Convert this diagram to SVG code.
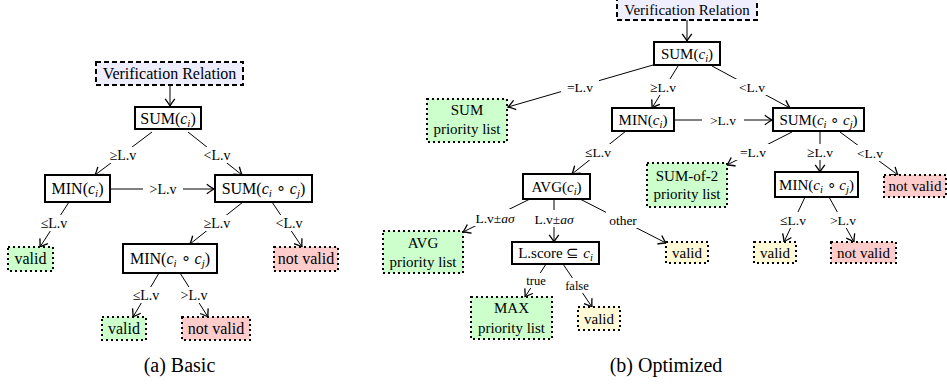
<svg xmlns="http://www.w3.org/2000/svg" width="947" height="385" viewBox="0 0 947 385">
<defs>
<marker id="ah" markerWidth="12" markerHeight="12" viewBox="-7 -5 9 10" refX="0" refY="0" orient="auto" markerUnits="userSpaceOnUse">
<path d="M-6,-4 Q-1.8,-0.9 0,0 Q-1.8,0.9 -6,4" fill="none" stroke="#000" stroke-width="1.1"/>
</marker>
<style>
.ed{stroke:#000;stroke-width:1;fill:none}
.ar{marker-end:url(#ah)}
.n{fill:#fff;stroke:#000;stroke-width:2}
.vr{fill:#eeeeff;stroke:#000;stroke-width:2;stroke-dasharray:5 3}
.lf{stroke:#000;stroke-width:2;stroke-dasharray:2 3}
.g{fill:#ccffcc}.r{fill:#ffcccc}.y{fill:#fff9d6}
text{font-family:"Liberation Serif","Times New Roman",serif;fill:#000;text-anchor:middle}
.ta{font-size:16px}.tb{font-size:15px}
.la{font-size:14px}.lb{font-size:13.5px}.lt{font-size:12.5px}
.cap{font-size:20px}
.bg{fill:#fff}
.i{font-style:italic}
</style>
</defs>

<g id="connectors">
<!-- (a) -->
<line class="ed ar" x1="170" y1="85" x2="170" y2="106"/>
<line class="ed ar" x1="152" y1="132" x2="95" y2="175"/>
<line class="ed ar" x1="188" y1="132" x2="242" y2="175"/>
<line class="ed ar" x1="111" y1="189" x2="214" y2="189"/>
<line class="ed ar" x1="69" y1="202" x2="40" y2="247"/>
<line class="ed ar" x1="243" y1="202" x2="190" y2="244"/>
<line class="ed ar" x1="272" y1="202" x2="302" y2="247"/>
<line class="ed ar" x1="159" y1="273" x2="133" y2="317"/>
<line class="ed ar" x1="180" y1="273" x2="208" y2="317"/>
<!-- (b) -->
<line class="ed ar" x1="687" y1="20" x2="687" y2="41"/>
<line class="ed ar" x1="653" y1="65" x2="508" y2="107"/>
<line class="ed ar" x1="678" y1="66" x2="652" y2="108"/>
<line class="ed ar" x1="712" y1="66" x2="790" y2="108"/>
<line class="ed ar" x1="675" y1="120" x2="772" y2="120"/>
<line class="ed ar" x1="626" y1="131" x2="572" y2="174"/>
<line class="ed ar" x1="530" y1="199" x2="463" y2="232"/>
<line class="ed ar" x1="554" y1="199" x2="554" y2="242"/>
<line class="ed ar" x1="580" y1="199" x2="666" y2="243"/>
<line class="ed ar" x1="546" y1="264" x2="525" y2="297"/>
<line class="ed ar" x1="563" y1="264" x2="592" y2="307"/>
<line class="ed ar" x1="792" y1="132" x2="727" y2="165"/>
<line class="ed ar" x1="820" y1="132" x2="820" y2="172"/>
<line class="ed ar" x1="840" y1="132" x2="898" y2="175"/>
<line class="ed ar" x1="805" y1="197" x2="784" y2="242"/>
<line class="ed ar" x1="829" y1="197" x2="854" y2="242"/>

<!-- labels (a) -->
<rect class="bg" x="106" y="147" width="34" height="16"/><text class="la" x="123" y="159.5">≥L.v</text>
<rect class="bg" x="200" y="147" width="34" height="16"/><text class="la" x="217" y="159.5">&lt;L.v</text>
<rect class="bg" x="143" y="181" width="40" height="16"/><text class="la" x="163" y="193.5">&gt;L.v</text>
<rect class="bg" x="37" y="215" width="34" height="16"/><text class="la" x="54" y="227.5">≤L.v</text>
<rect class="bg" x="200" y="215" width="34" height="16"/><text class="la" x="217" y="227.5">≥L.v</text>
<rect class="bg" x="272" y="215" width="34" height="16"/><text class="la" x="289" y="227.5">&lt;L.v</text>
<rect class="bg" x="129" y="287" width="34" height="16"/><text class="la" x="146" y="299.5">≤L.v</text>
<rect class="bg" x="177" y="287" width="34" height="16"/><text class="la" x="194" y="299.5">&gt;L.v</text>
<!-- labels (b) -->
<rect class="bg" x="561" y="79" width="38" height="16"/><text class="lb" x="580" y="91.5">=L.v</text>
<rect class="bg" x="647" y="79" width="33" height="16"/><text class="lb" x="663" y="91.5">≥L.v</text>
<rect class="bg" x="734" y="79" width="36" height="16"/><text class="lb" x="752" y="91.5">&lt;L.v</text>
<rect class="bg" x="702" y="112" width="42" height="16"/><text class="lb" x="723" y="124.5">&gt;L.v</text>
<rect class="bg" x="581" y="144" width="34" height="16"/><text class="lb" x="598" y="156.5">≤L.v</text>
<rect class="bg" x="473" y="209" width="44" height="17"/><text class="lb" x="495" y="222.5">L.v±<tspan class="i">aσ</tspan></text>
<rect class="bg" x="532" y="210" width="44" height="17"/><text class="lb" x="554" y="223.5">L.v±<tspan class="i">aσ</tspan></text>
<rect class="bg" x="606" y="212" width="34" height="16"/><text class="lb" x="623" y="224.5">other</text>
<rect class="bg" x="523" y="273" width="26" height="15"/><text class="lt" x="536" y="285">true</text>
<rect class="bg" x="563" y="278" width="29" height="15"/><text class="lt" x="577" y="290">false</text>
<rect class="bg" x="735" y="144" width="36" height="16"/><text class="lb" x="753" y="156.5">=L.v</text>
<rect class="bg" x="803" y="144" width="34" height="16"/><text class="lb" x="820" y="156.5">≥L.v</text>
<rect class="bg" x="853" y="145" width="34" height="16"/><text class="lb" x="870" y="157.5">&lt;L.v</text>
<rect class="bg" x="776" y="212" width="34" height="16"/><text class="lb" x="793" y="224.5">≤L.v</text>
<rect class="bg" x="826" y="212" width="34" height="16"/><text class="lb" x="843" y="224.5">&gt;L.v</text>
</g>

<!-- (a) nodes -->
<g id="a-vr"><rect class="vr" x="96" y="62" width="147" height="23"/><text class="ta" x="169.5" y="79">Verification Relation</text></g>
<g id="a-sum"><rect class="n" x="135" y="107" width="66" height="22"/><text class="ta" x="168" y="123.5">SUM(<tspan class="i">c</tspan><tspan class="i" font-size="11" baseline-shift="-3">i</tspan>)</text></g>
<g id="a-min"><rect class="n" x="45" y="175" width="65" height="27"/><text class="ta" x="77.5" y="193.5">MIN(<tspan class="i">c</tspan><tspan class="i" font-size="11" baseline-shift="-3">i</tspan>)</text></g>
<g id="a-sumcc"><rect class="n" x="215" y="175" width="97" height="27"/><text class="ta" x="263.5" y="193.5">SUM(<tspan class="i">c</tspan><tspan class="i" font-size="11" baseline-shift="-3">i</tspan> ∘ <tspan class="i">c</tspan><tspan class="i" font-size="11" baseline-shift="-3">j</tspan>)</text></g>
<g id="a-valid1"><rect class="lf g" x="8" y="247" width="45" height="24"/><text class="ta" x="30.5" y="264">valid</text></g>
<g id="a-mincc"><rect class="n" x="123" y="244" width="94" height="29"/><text class="ta" x="170" y="263.5">MIN(<tspan class="i">c</tspan><tspan class="i" font-size="11" baseline-shift="-3">i</tspan> ∘ <tspan class="i">c</tspan><tspan class="i" font-size="11" baseline-shift="-3">j</tspan>)</text></g>
<g id="a-nv1"><rect class="lf r" x="274" y="247" width="64" height="24"/><text class="ta" x="306" y="264">not valid</text></g>
<g id="a-valid2"><rect class="lf g" x="102" y="317" width="44" height="23"/><text class="ta" x="124" y="333.5">valid</text></g>
<g id="a-nv2"><rect class="lf r" x="182" y="317" width="68" height="23"/><text class="ta" x="216" y="333.5">not valid</text></g>
<text class="cap" x="179.5" y="372">(a) Basic</text>

<!-- (b) nodes -->
<g id="b-vr"><rect class="vr" x="617" y="-1" width="140" height="21"/><text class="tb" x="687" y="15">Verification Relation</text></g>
<g id="b-sum"><rect class="n" x="654" y="42" width="66" height="23"/><text class="tb" x="687" y="58.5">SUM(<tspan class="i">c</tspan><tspan class="i" font-size="10.5" baseline-shift="-3">i</tspan>)</text></g>
<g id="b-sumpl"><rect class="lf g" x="427" y="99" width="80" height="43"/><text class="tb" x="467" y="115">SUM</text><text class="tb" x="467" y="134">priority list</text></g>
<g id="b-min"><rect class="n" x="612" y="108" width="62" height="23"/><text class="tb" x="643" y="124.5">MIN(<tspan class="i">c</tspan><tspan class="i" font-size="10.5" baseline-shift="-3">i</tspan>)</text></g>
<g id="b-sumcc"><rect class="n" x="773" y="108" width="91" height="23"/><text class="tb" x="818.5" y="124.5">SUM(<tspan class="i">c</tspan><tspan class="i" font-size="10.5" baseline-shift="-3">i</tspan> ∘ <tspan class="i">c</tspan><tspan class="i" font-size="10.5" baseline-shift="-3">j</tspan>)</text></g>
<g id="b-avg"><rect class="n" x="523" y="174" width="67" height="25"/><text class="tb" x="556.5" y="191.5">AVG(<tspan class="i">c</tspan><tspan class="i" font-size="10.5" baseline-shift="-3">i</tspan>)</text></g>
<g id="b-avgpl"><rect class="lf g" x="383" y="231" width="80" height="42"/><text class="tb" x="423" y="248">AVG</text><text class="tb" x="423" y="267">priority list</text></g>
<g id="b-lscore"><rect class="n" x="512" y="242" width="87" height="22"/><text class="tb" x="555.5" y="258">L.score ⊆ <tspan class="i">c</tspan><tspan class="i" font-size="10.5" baseline-shift="-3">i</tspan></text></g>
<g id="b-valid1"><rect class="lf y" x="666" y="242" width="42" height="21"/><text class="tb" x="687" y="257.5">valid</text></g>
<g id="b-maxpl"><rect class="lf g" x="471" y="297" width="81" height="42"/><text class="tb" x="511.5" y="313">MAX</text><text class="tb" x="511.5" y="333">priority list</text></g>
<g id="b-valid2"><rect class="lf y" x="578" y="307" width="42" height="23"/><text class="tb" x="599" y="323.5">valid</text></g>
<g id="b-sum2pl"><rect class="lf g" x="647" y="163" width="80" height="44"/><text class="tb" x="687" y="181">SUM-of-2</text><text class="tb" x="687" y="199">priority list</text></g>
<g id="b-mincc"><rect class="n" x="775" y="172" width="83" height="25"/><text class="tb" x="816.5" y="189.5">MIN(<tspan class="i">c</tspan><tspan class="i" font-size="10.5" baseline-shift="-3">i</tspan> ∘ <tspan class="i">c</tspan><tspan class="i" font-size="10.5" baseline-shift="-3">j</tspan>)</text></g>
<g id="b-nv1"><rect class="lf r" x="884" y="175" width="62" height="22"/><text class="tb" x="915" y="191">not valid</text></g>
<g id="b-valid3"><rect class="lf y" x="754" y="242" width="42" height="21"/><text class="tb" x="775" y="257.5">valid</text></g>
<g id="b-nv2"><rect class="lf r" x="831" y="242" width="65" height="21"/><text class="tb" x="863.5" y="257.5">not valid</text></g>
<text class="cap" x="666" y="372">(b) Optimized</text>
</svg>
